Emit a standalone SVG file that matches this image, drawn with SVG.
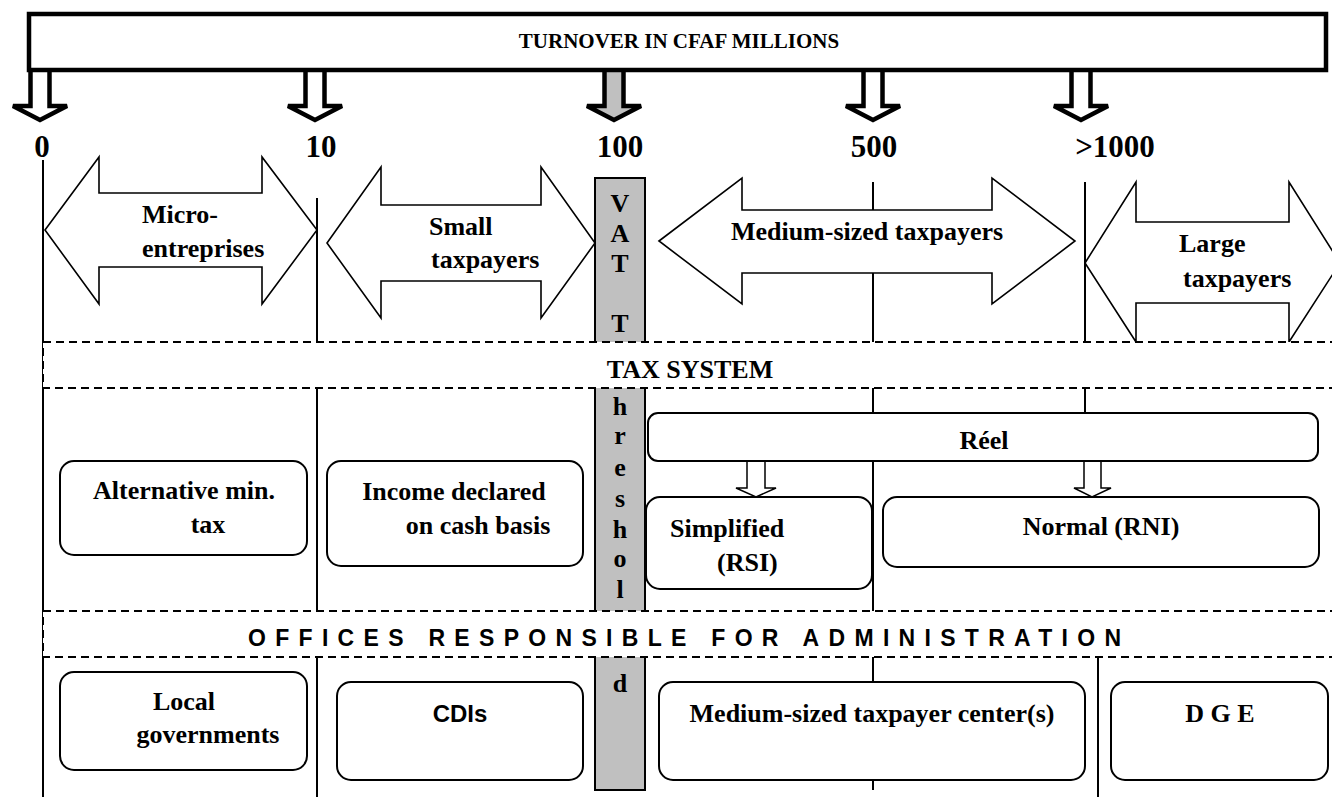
<svg xmlns="http://www.w3.org/2000/svg" width="1332" height="797" viewBox="0 0 1332 797">
<style>
.serif{font-family:"Liberation Serif","Times New Roman",serif;font-weight:bold;fill:#000}
.sans{font-family:"Liberation Sans",Arial,sans-serif;font-weight:bold;fill:#000}
.t26{font-size:26px}
.mid{text-anchor:middle}
.vline{stroke:#000;stroke-width:2;fill:none}
.box{fill:#fff;stroke:#000;stroke-width:2}
.barrow{fill:#fff;stroke:#000;stroke-width:1.6;stroke-linejoin:miter}
.down{fill:#fff;stroke:#000;stroke-width:4.5;stroke-linejoin:miter}
.small{fill:#fff;stroke:#000;stroke-width:1.5}
.band{fill:#fff;stroke:#000;stroke-width:2;stroke-dasharray:8 5}
</style>
<rect width="1332" height="797" fill="#fff"/>

<g id="grid-lines">
  <path class="vline" d="M43,160 V797 M317,198 V797 M873,182 V790 M1085,182 V413 M1098,657 V797"/>
</g>

<g id="vat-threshold">
  <rect x="595" y="178" width="50" height="612" fill="#c0c0c0" stroke="#000" stroke-width="2"/>
</g>

<g id="connectors">
  <path class="down" d="M30.5,70 V106 H13 L40,120 L67,106 H49.5 V70"/>
  <path class="down" d="M305.5,70 V106 H288 L315,120 L342,106 H324.5 V70"/>
  <path class="down" style="fill:#c0c0c0" d="M604.5,70 V106 H587 L614,120 L641,106 H623.5 V70"/>
  <path class="down" d="M863.5,70 V106 H846 L873,120 L900,106 H882.5 V70"/>
  <path class="down" d="M1071.5,70 V106 H1054 L1081,120 L1108,106 H1090.5 V70"/>
  <path class="small" d="M747,461 V488 H736 L756,497 L776,488 H765 V461"/>
  <path class="small" d="M1084,461 V488 H1074 L1092,497 L1111,488 H1101 V461"/>
</g>

<g id="turnover">
  <rect x="29" y="14" width="1297" height="56" fill="#fff" stroke="#000" stroke-width="4.5"/>
  <text class="serif mid" x="679" y="48" font-size="21">TURNOVER IN CFAF MILLIONS</text>
</g>

<g id="scale-labels" class="serif" font-size="31">
  <text class="mid" x="42" y="157">0</text>
  <text class="mid" x="321" y="157">10</text>
  <text class="mid" x="620" y="157">100</text>
  <text class="mid" x="874" y="157">500</text>
  <text class="mid" x="1115" y="157">&gt;1000</text>
</g>

<g id="micro">
  <path class="barrow" d="M45,230 L99,157 V193 H262 V157 L317,230 L262,304 V267 H99 V304 Z"/>
  <text class="serif t26" x="142" y="223">Micro-</text>
  <text class="serif t26" x="142" y="257">entreprises</text>
</g>
<g id="small">
  <path class="barrow" d="M327,243 L381,167 V205 H541 V167 L595,243 L541,318 V281 H381 V318 Z"/>
  <text class="serif t26" x="429" y="235">Small</text>
  <text class="serif t26" x="431" y="268">taxpayers</text>
</g>
<g id="medium">
  <path class="barrow" d="M659,241 L742,178 V210 H992 V178 L1075,241 L992,304 V273 H742 V304 Z"/>
  <text class="serif t26 mid" x="867" y="240">Medium-sized taxpayers</text>
</g>
<g id="large">
  <path class="barrow" d="M1085,263 L1136,182 V222 H1289 V182 L1340,263 L1289,342 V303 H1136 V342 Z"/>
  <text class="serif t26" x="1179" y="252">Large</text>
  <text class="serif t26" x="1183" y="287">taxpayers</text>
</g>

<g id="vat-text" class="serif t26 mid">
  <text x="620" y="212">V</text>
  <text x="620" y="242">A</text>
  <text x="620" y="272">T</text>
  <text x="620" y="332">T</text>
  <text x="620" y="415">h</text>
  <text x="620" y="444">r</text>
  <text x="620" y="476">e</text>
  <text x="620" y="507">s</text>
  <text x="620" y="538">h</text>
  <text x="620" y="567">o</text>
  <text x="620" y="598">l</text>
  <text x="620" y="692">d</text>
</g>

<g id="alt-min-tax">
  <rect class="box" x="60" y="461" width="247" height="94" rx="14"/>
  <text class="serif t26 mid" x="184" y="499">Alternative min.</text>
  <text class="serif t26 mid" x="208" y="533">tax</text>
</g>
<g id="cash-basis">
  <rect class="box" x="327" y="461" width="256" height="105" rx="14"/>
  <text class="serif t26 mid" x="454" y="500">Income declared</text>
  <text class="serif t26 mid" x="478" y="534">on cash basis</text>
</g>
<g id="reel">
  <rect class="box" x="648" y="413" width="670" height="48" rx="10"/>
  <text class="serif t26 mid" x="984" y="449">Réel</text>
</g>
<g id="simplified">
  <rect class="box" x="646" y="497" width="226" height="92" rx="14"/>
  <text class="serif t26" x="670" y="537">Simplified</text>
  <text class="serif t26" x="717" y="571">(RSI)</text>
</g>
<g id="normal">
  <rect class="box" x="883" y="497" width="436" height="70" rx="14"/>
  <text class="serif t26 mid" x="1101" y="535">Normal (RNI)</text>
</g>

<g id="local-gov">
  <rect class="box" x="60" y="672" width="247" height="98" rx="14"/>
  <text class="serif t26 mid" x="184" y="710">Local</text>
  <text class="serif t26 mid" x="208" y="743">governments</text>
</g>
<g id="cdis">
  <rect class="box" x="337" y="682" width="246" height="98" rx="14"/>
  <text class="sans mid" x="460" y="722" font-size="24">CDIs</text>
</g>
<g id="mtc">
  <rect class="box" x="659" y="682" width="426" height="98" rx="14"/>
  <text class="serif t26 mid" x="872" y="722">Medium-sized taxpayer center(s)</text>
</g>
<g id="dge">
  <rect class="box" x="1111" y="682" width="217" height="98" rx="14"/>
  <text class="serif t26 mid" x="1220" y="722">D G E</text>
</g>

<g id="tax-system">
  <rect class="band" x="43" y="342" width="1300" height="46"/>
  <text class="serif t26 mid" x="690" y="378">TAX SYSTEM</text>
</g>
<g id="offices">
  <rect class="band" x="43" y="611" width="1300" height="46"/>
  <text class="sans" x="248" y="646" font-size="23" letter-spacing="9.3">OFFICES RESPONSIBLE FOR ADMINISTRATION</text>
</g>
</svg>
